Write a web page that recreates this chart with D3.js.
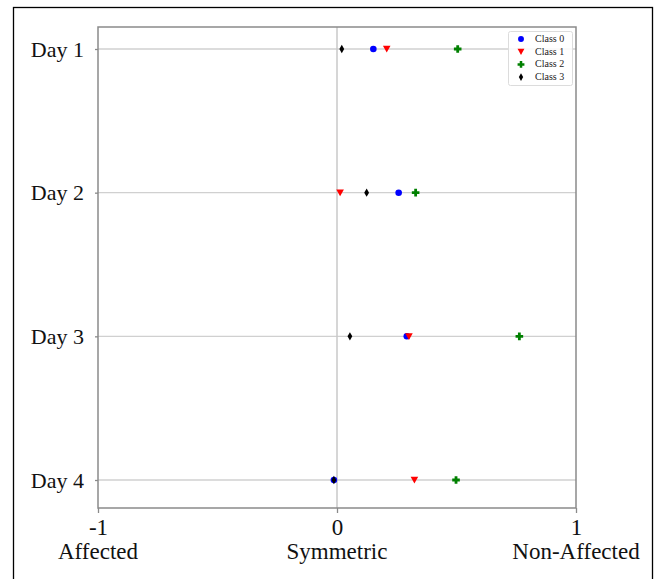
<!DOCTYPE html>
<html><head><meta charset="utf-8">
<script src="https://cdn.jsdelivr.net/npm/d3@7"></script>
<style>body{margin:0;background:#fff}svg{display:block}</style>
</head><body>
<svg id="c" width="657" height="579"></svg>
<script>
const days = ["Day 1","Day 2","Day 3","Day 4"];
const classes = ["Class 0","Class 1","Class 2","Class 3"];
const class0 = [0.152, 0.258, 0.292, -0.013];
const class1 = [0.208, 0.013, 0.301, 0.324];
const class2 = [0.505, 0.329, 0.763, 0.498];
const class3 = [0.020, 0.124, 0.054, -0.013];
const xTicks = [-1, 0, 1];
const xTickLabels = ["-1", "0", "1"];
const xLabels = ["Affected","Symmetric","Non-Affected"];
const colors = ["#0000ff","#ff0000","#008000","#000000"];

const series = [class0, class1, class2, class3];
const svg = d3.select("#c");
const font = "'Liberation Serif', 'DejaVu Serif', serif";

// outer frame
svg.append("rect").attr("x",13.5).attr("y",7.5).attr("width",639).attr("height",600)
  .attr("fill","none").attr("stroke","#000").attr("stroke-width",1.3);

const L=98, R=576, T=27, B=508;
const x = d3.scaleLinear().domain([-1,1]).range([L,R]);
const y = d3.scalePoint().domain(days).range([49,480]);

// gridlines
svg.append("g").selectAll("line").data(days).join("line")
  .attr("x1",L).attr("x2",R).attr("y1",d=>y(d)).attr("y2",d=>y(d))
  .attr("stroke","#d0d0d0").attr("stroke-width",1.3);
svg.append("line").attr("x1",x(0)).attr("x2",x(0)).attr("y1",T).attr("y2",B)
  .attr("stroke","#c8c8c8").attr("stroke-width",1.5);

// box
svg.append("rect").attr("x",L).attr("y",T).attr("width",R-L).attr("height",B-T)
  .attr("fill","none").attr("stroke","#8a8a8a").attr("stroke-width",1.5);

// axes
const xa = svg.append("g").attr("transform",`translate(0,${B})`)
  .call(d3.axisBottom(x).tickValues(xTicks).tickSize(5).tickPadding(6)
    .tickFormat((d,i)=>xTickLabels[i]));
xa.select(".domain").remove();
xa.selectAll("line").attr("stroke","#8a8a8a").attr("stroke-width",1.3);
xa.selectAll("text").attr("font-family",font).attr("font-size",23).attr("fill","#111");

const ya = svg.append("g").attr("transform",`translate(${L},0)`)
  .call(d3.axisLeft(y).tickSize(3).tickPadding(11));
ya.select(".domain").remove();
ya.selectAll("line").attr("stroke","#8a8a8a").attr("stroke-width",1.3);
ya.selectAll("text").attr("font-family",font).attr("font-size",22).attr("fill","#111");

// bottom category labels
svg.append("g").selectAll("text").data(xLabels).join("text")
  .attr("x",(d,i)=>x(xTicks[i])).attr("y",559).attr("text-anchor","middle")
  .attr("font-family",font).attr("font-size",23).attr("fill","#111").text(d=>d);

// marker shapes
function markerPath(i){
  if(i===0) return d3.symbol(d3.symbolCircle, 34)();
  if(i===1) return "M-3.8,-3.2 L3.8,-3.2 L0,3.6 Z";
  if(i===2) return "M-1.4,-3.8 L1.4,-3.8 L1.4,-1.4 L3.8,-1.4 L3.8,1.4 L1.4,1.4 L1.4,3.8 L-1.4,3.8 L-1.4,1.4 L-3.8,1.4 L-3.8,-1.4 L-1.4,-1.4 Z";
  return "M0,-4.2 L2.4,0 L0,4.2 L-2.4,0 Z";
}

series.forEach((vals,i)=>{
  svg.append("g").selectAll("path").data(vals).join("path")
    .attr("d",markerPath(i))
    .attr("transform",(v,j)=>`translate(${x(v)},${y(days[j])})`)
    .attr("fill",colors[i]);
});

// legend
const lg = svg.append("g");
lg.append("rect").attr("x",508.5).attr("y",31.5).attr("width",64).attr("height",54).attr("rx",2)
  .attr("fill","#fff").attr("fill-opacity",0.85).attr("stroke","#dcdcdc");
classes.forEach((c,i)=>{
  const yy = 39 + i*12.7;
  lg.append("path").attr("d",markerPath(i)).attr("transform",`translate(521,${yy}) scale(0.9)`).attr("fill",colors[i]);
  lg.append("text").attr("x",535).attr("y",yy+3).attr("font-family",font).attr("font-size",10)
    .attr("fill","#222").text(c);
});
</script>
</body></html>
